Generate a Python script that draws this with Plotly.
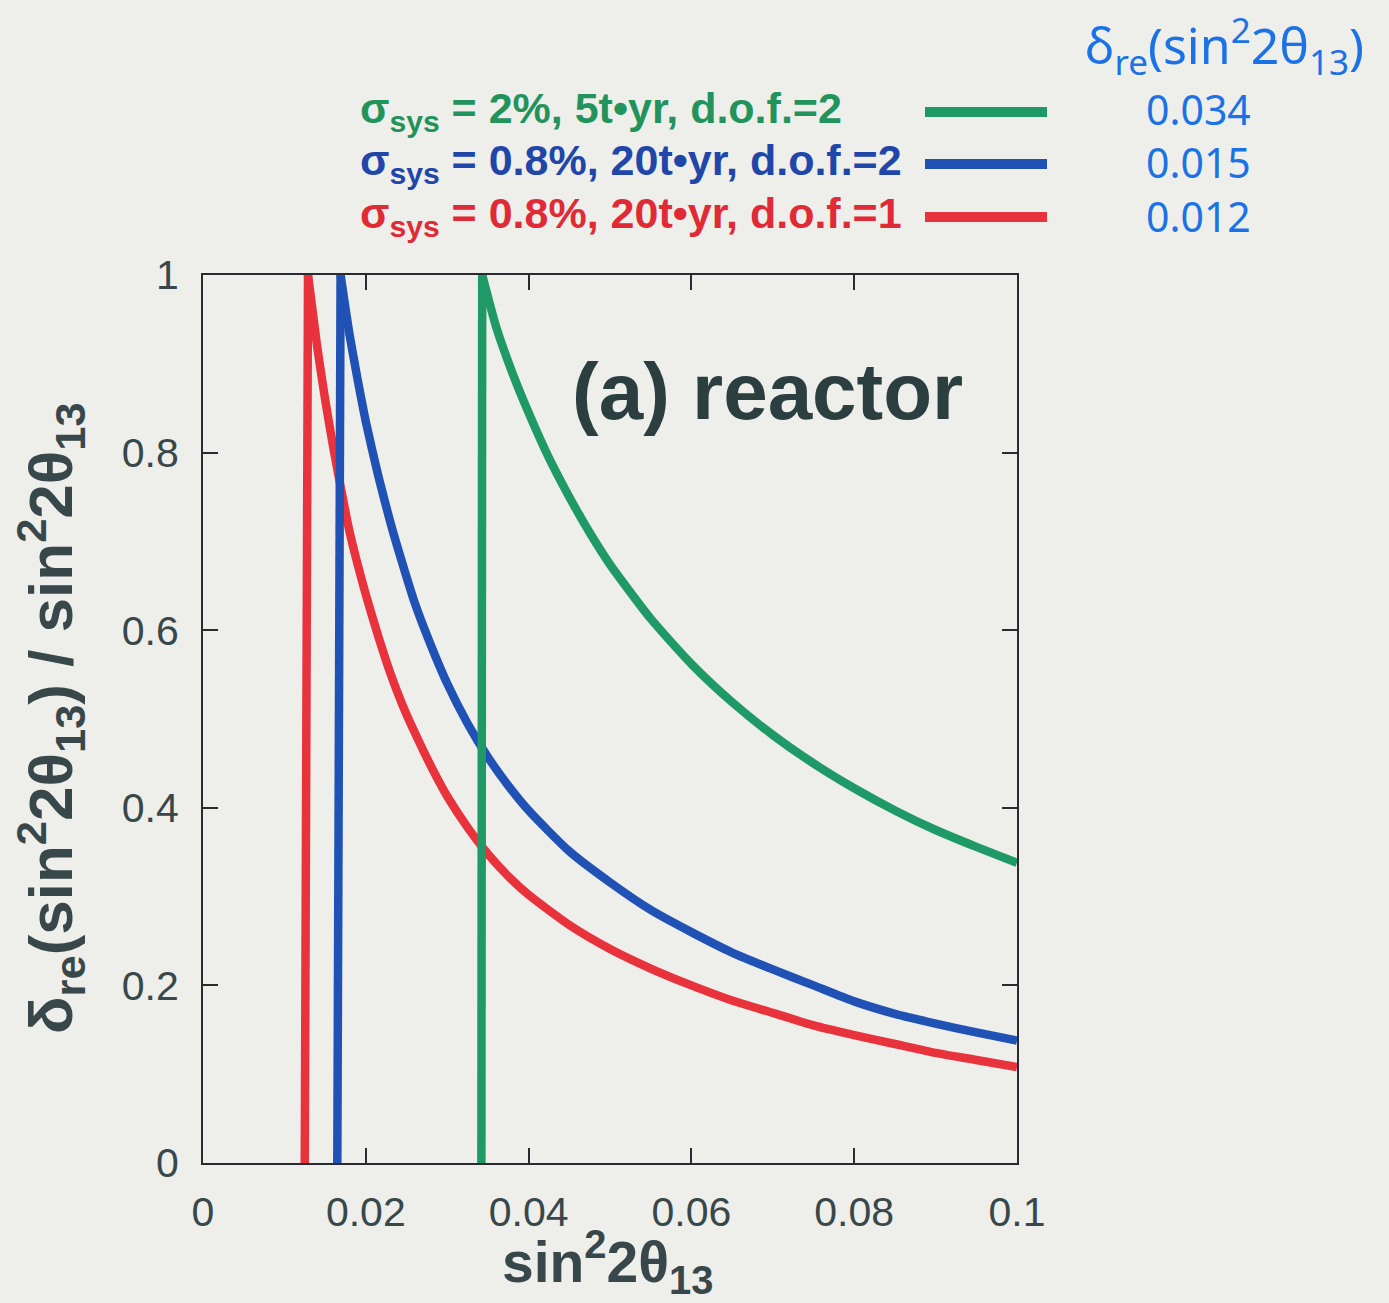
import plotly.graph_objects as go

W, H = 1389, 1303
L, R, T, B = 203, 1017, 275, 1163  # plot-area pixel box

# ---------------- data ----------------
series_names = ["σ<sub>sys</sub> = 2%, 5t•yr, d.o.f.=2",
                "σ<sub>sys</sub> = 0.8%, 20t•yr, d.o.f.=2",
                "σ<sub>sys</sub> = 0.8%, 20t•yr, d.o.f.=1"]
handwritten_values = ["0.034", "0.015", "0.012"]

# vertical onset segments (x at bottom, apex point)
green_edge_x = [0.0342, 0.0343]
green_edge_y = [0.0, 1.0]
blue_edge_x = [0.0165, 0.0169]
blue_edge_y = [0.0, 1.0]
red_edge_x = [0.0125, 0.0129]
red_edge_y = [0.0, 1.0]

# decaying branches
green_x = [0.0343, 0.036, 0.038, 0.040, 0.0425, 0.045, 0.0475, 0.050, 0.055, 0.060,
           0.065, 0.070, 0.075, 0.080, 0.085, 0.090, 0.095, 0.100]
green_y = [1.000, 0.942, 0.890, 0.845, 0.794, 0.750, 0.710, 0.674, 0.613, 0.562,
           0.519, 0.482, 0.450, 0.422, 0.397, 0.375, 0.356, 0.338]

blue_x = [0.0169, 0.018, 0.019, 0.020, 0.0215, 0.023, 0.0245, 0.026, 0.028, 0.030,
          0.0325, 0.035, 0.0375, 0.040, 0.045, 0.050, 0.055, 0.060, 0.065, 0.070,
          0.075, 0.080, 0.085, 0.090, 0.095, 0.100]
blue_y = [1.000, 0.933, 0.882, 0.835, 0.775, 0.722, 0.675, 0.631, 0.583, 0.540,
          0.495, 0.457, 0.425, 0.397, 0.351, 0.316, 0.285, 0.260, 0.237, 0.218,
          0.200, 0.182, 0.168, 0.157, 0.147, 0.138]

red_x = [0.0129, 0.014, 0.015, 0.016, 0.017, 0.018, 0.019, 0.020, 0.0215, 0.023,
         0.0245, 0.026, 0.028, 0.030, 0.0325, 0.035, 0.0375, 0.040, 0.045, 0.050,
         0.055, 0.060, 0.065, 0.070, 0.075, 0.080, 0.085, 0.090, 0.095, 0.100]
red_y = [1.000, 0.921, 0.860, 0.806, 0.757, 0.711, 0.674, 0.640, 0.594, 0.552,
         0.516, 0.485, 0.447, 0.413, 0.378, 0.348, 0.323, 0.302, 0.268, 0.241,
         0.219, 0.200, 0.183, 0.169, 0.155, 0.144, 0.134, 0.124, 0.116, 0.108]

x_ticks = [0, 0.02, 0.04, 0.06, 0.08, 0.1]
x_tick_labels = ["0", "0.02", "0.04", "0.06", "0.08", "0.1"]
y_ticks = [0, 0.2, 0.4, 0.6, 0.8, 1]
y_tick_labels = ["0", "0.2", "0.4", "0.6", "0.8", "1"]

# ---------------- styling ----------------
GREEN, BLUE, RED = "#1f9a66", "#1f52b4", "#e8333d"
GREEN_T, BLUE_T, RED_T = "#23935c", "#2146a9", "#e02a36"
HAND = "#1a72e6"
TXT = "#37474a"
BG = "#eeeeea"
LW = 8.5
FONT = "Liberation Sans, Arial, Helvetica, sans-serif"


def px(x):
    return (x - L) / (R - L)


def py(y):
    return (B - y) / (B - T)


fig = go.Figure()
for ex, ey, cx, cy, col in [(red_edge_x, red_edge_y, red_x, red_y, RED),
                            (blue_edge_x, blue_edge_y, blue_x, blue_y, BLUE),
                            (green_edge_x, green_edge_y, green_x, green_y, GREEN)]:
    fig.add_trace(go.Scatter(x=ex, y=ey, mode="lines", showlegend=False,
                             line=dict(color=col, width=LW)))
    fig.add_trace(go.Scatter(x=cx, y=cy, mode="lines", showlegend=False,
                             line=dict(color=col, width=LW, shape="spline", smoothing=0.6)))

axis_common = dict(showgrid=False, zeroline=False, showline=True, linecolor="#2a2a33",
                   linewidth=2, mirror="ticks", ticks="inside", ticklen=15, tickwidth=2,
                   tickcolor="#2a2a33",
                   tickfont=dict(family=FONT, size=41, color=TXT))

fig.update_xaxes(range=[0, 0.1], tickvals=x_ticks, ticktext=x_tick_labels,
                 ticklabelstandoff=12, **axis_common)
fig.update_yaxes(range=[0, 1], tickvals=y_ticks, ticktext=y_tick_labels,
                 ticklabelstandoff=14, **axis_common)

ann = []
# axis titles
ann.append(dict(x=px(607), y=py(1262), xref="paper", yref="paper", showarrow=False,
                text="sin<sup>2</sup>2θ<sub>13</sub>", xanchor="center", yanchor="middle",
                font=dict(family=FONT, size=57, color=TXT, weight="bold")))
ann.append(dict(x=px(50), y=py(718), xref="paper", yref="paper", showarrow=False,
                text="δ<sub>re</sub>(sin<sup>2</sup>2θ<sub>13</sub>) / sin<sup>2</sup>2θ<sub>13</sub>",
                textangle=-90, xanchor="center", yanchor="middle",
                font=dict(family=FONT, size=62, color=TXT, weight="bold")))
# panel label
ann.append(dict(x=px(767), y=py(391), xref="paper", yref="paper", showarrow=False,
                text="(a) reactor", xanchor="center", yanchor="middle",
                font=dict(family=FONT, size=80, color="#2b3e40", weight="bold")))

# key (text + line samples)
rows_y = [111, 163, 216]
text_cols = [GREEN_T, BLUE_T, RED_T]
line_cols = [GREEN, BLUE, RED]
shapes = []
for name, yy, tc, lc in zip(series_names, rows_y, text_cols, line_cols):
    ann.append(dict(x=px(358), y=py(yy), xref="paper", yref="paper", showarrow=False,
                    text=name, xanchor="left", yanchor="middle",
                    font=dict(family=FONT, size=43, color=tc, weight="bold")))
    shapes.append(dict(type="line", xref="paper", yref="paper",
                       x0=px(925), x1=px(1047), y0=py(yy + 1), y1=py(yy + 1),
                       line=dict(color=lc, width=10)))

# handwritten column of values (one block, one line per series)
ann.append(dict(x=px(1198), y=py(163), xref="paper", yref="paper", showarrow=False,
                text="<br>".join(handwritten_values), xanchor="center", yanchor="middle",
                align="center",
                font=dict(family="Noto Sans, sans-serif", size=41, color=HAND)))

ann.append(dict(x=px(1224), y=py(46), xref="paper", yref="paper", showarrow=False,
                text="δ<sub>re</sub>(sin<sup>2</sup>2θ<sub>13</sub>)", xanchor="center", yanchor="middle",
                font=dict(family="Noto Sans, sans-serif", size=50, color=HAND)))

fig.update_layout(width=W, height=H, margin=dict(l=L, r=W - R, t=T, b=H - B),
                  paper_bgcolor=BG, plot_bgcolor=BG, showlegend=False,
                  annotations=ann, shapes=shapes)

fig.write_html("out.html")
